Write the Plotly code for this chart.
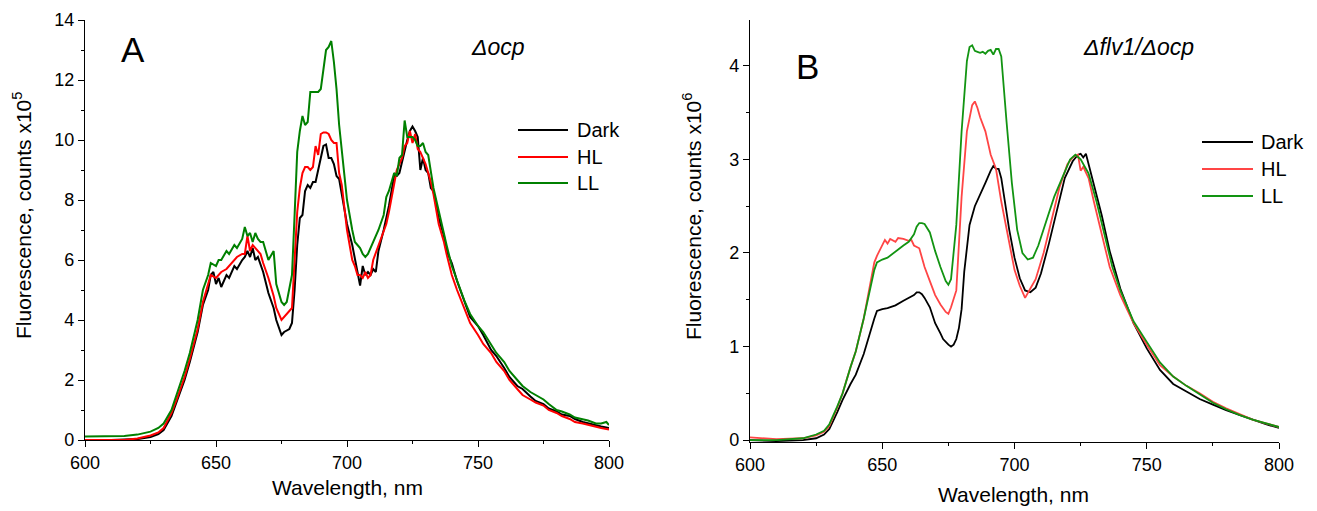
import plotly.graph_objects as go

# ---------------- Panel A (Δocp) ----------------
a_dark_wl = [600, 610, 620, 625, 628, 630, 633, 635, 638, 640, 643, 645, 647, 648, 649, 650, 651, 652, 654, 655, 657, 658, 660, 661, 662, 663, 664, 665, 666, 668, 670, 672, 673, 675, 676, 678, 679, 680, 681, 682, 683, 684, 685, 686, 687, 688, 689, 690, 691, 692, 693, 694, 695, 696, 697, 698, 700, 702, 703, 704, 705, 706, 707, 708, 709, 710, 711, 712, 714, 715, 716, 718, 719, 720, 721, 722, 723, 724, 725, 726, 727, 728, 729, 730, 731, 732, 733, 735, 737, 738, 740, 742, 745, 747, 750, 752, 755, 757, 760, 762, 765, 767, 770, 772, 775, 777, 780, 782, 785, 787, 790, 792, 795, 797, 800]
a_dark = [0.0, 0.0, 0.03, 0.1, 0.2, 0.33, 0.8, 1.3, 2.0, 2.6, 3.6, 4.5, 5.0, 5.5, 5.6, 5.2, 5.4, 5.1, 5.5, 5.4, 5.8, 5.7, 6.0, 6.1, 6.3, 6.1, 6.4, 6.0, 6.1, 5.6, 4.9, 4.4, 4.0, 3.5, 3.6, 3.7, 3.9, 5.0, 6.5, 7.4, 7.5, 8.3, 8.5, 8.4, 8.6, 8.6, 9.0, 9.5, 9.8, 9.85, 9.4, 9.4, 9.2, 8.8, 8.7, 8.2, 7.2, 6.5, 6.1, 5.6, 5.15, 5.8, 5.5, 5.6, 5.5, 5.7, 5.6, 6.3, 7.0, 7.4, 7.8, 8.8, 8.8, 8.9, 9.3, 9.6, 10.0, 10.3, 10.45, 10.3, 10.1, 9.0, 9.4, 9.0, 8.9, 8.4, 8.3, 7.4, 6.8, 6.3, 5.9, 5.3, 4.6, 4.1, 3.8, 3.5, 3.0, 2.8, 2.4, 2.1, 1.8, 1.7, 1.45, 1.3, 1.2, 1.05, 0.95, 0.85, 0.8, 0.7, 0.6, 0.55, 0.5, 0.45, 0.4]

a_hl_wl = [600, 610, 615, 620, 625, 628, 630, 633, 635, 638, 640, 643, 645, 647, 648, 650, 652, 654, 655, 657, 658, 660, 661, 662, 663, 664, 665, 667, 668, 670, 672, 673, 675, 676, 678, 679, 680, 681, 682, 683, 684, 685, 686, 687, 688, 689, 690, 691, 692, 693, 694, 695, 696, 697, 698, 700, 702, 703, 704, 705, 706, 707, 708, 709, 710, 712, 714, 715, 716, 718, 719, 720, 721, 722, 723, 724, 725, 726, 727, 728, 730, 732, 733, 735, 737, 738, 740, 742, 745, 747, 750, 752, 755, 757, 760, 762, 765, 767, 770, 772, 775, 777, 780, 782, 785, 787, 790, 792, 795, 797, 800]
a_hl = [0.0, 0.0, 0.0, 0.05, 0.15, 0.25, 0.4, 0.9, 1.35, 2.1, 2.7, 3.7, 4.6, 5.2, 5.5, 5.4, 5.6, 5.7, 5.8, 6.0, 6.1, 6.2, 6.2, 6.8, 6.3, 6.5, 6.4, 6.2, 5.9, 5.4, 4.8, 4.4, 4.0, 4.1, 4.3, 4.4, 6.0, 7.6, 8.4, 8.9, 9.1, 9.1, 9.0, 9.1, 9.8, 9.5, 10.2, 10.25, 10.25, 10.2, 10.0, 9.9, 9.9, 8.9, 8.5, 7.0, 6.0, 5.8, 5.5, 5.5, 5.4, 5.6, 5.4, 5.5, 6.0, 6.5, 7.0, 7.2, 7.6, 8.6, 9.0, 9.2, 9.4, 9.8, 9.9, 10.3, 9.9, 10.2, 9.7, 9.6, 9.2, 8.6, 8.2, 7.2, 6.6, 6.2, 5.5, 5.0, 4.3, 3.9, 3.5, 3.2, 2.9, 2.6, 2.3, 2.0, 1.7, 1.5, 1.35, 1.25, 1.15, 1.0, 0.9, 0.8, 0.7, 0.6, 0.55, 0.5, 0.45, 0.4, 0.35]

a_ll_wl = [600, 605, 610, 615, 620, 625, 628, 630, 633, 635, 638, 640, 643, 645, 647, 648, 650, 651, 652, 654, 655, 657, 658, 660, 661, 662, 663, 664, 665, 666, 667, 668, 670, 672, 673, 675, 676, 677, 679, 680, 681, 682, 683, 684, 685, 686, 687, 688, 689, 690, 691, 692, 693, 694, 695, 696, 697, 698, 700, 702, 703, 704, 705, 706, 707, 708, 709, 710, 712, 714, 715, 716, 718, 719, 720, 721, 722, 723, 724, 725, 726, 727, 728, 729, 730, 731, 733, 735, 737, 738, 740, 742, 745, 747, 750, 752, 755, 757, 760, 762, 765, 767, 770, 772, 775, 777, 780, 782, 785, 787, 790, 792, 795, 797, 799, 800]
a_ll = [0.12, 0.12, 0.12, 0.13, 0.18, 0.28, 0.4, 0.55, 1.0, 1.5, 2.3, 2.9, 4.0, 5.0, 5.5, 5.9, 5.8, 6.0, 6.0, 6.3, 6.2, 6.5, 6.4, 6.7, 7.1, 6.8, 6.9, 6.6, 6.9, 6.7, 6.6, 6.6, 6.0, 6.3, 5.2, 4.6, 4.5, 4.6, 5.5, 7.5, 9.6, 10.3, 10.8, 10.5, 10.6, 11.6, 11.6, 11.6, 11.6, 11.7, 12.4, 13.0, 13.1, 13.3, 12.6, 11.7, 10.5, 9.6, 8.0, 7.0, 6.6, 6.5, 6.4, 6.2, 6.1, 6.2, 6.4, 6.6, 7.0, 7.5, 8.1, 8.3, 8.9, 8.8, 9.4, 9.5, 10.65, 10.1, 10.1, 10.1, 10.0, 9.8, 9.8, 9.9, 9.6, 9.5, 8.4, 7.6, 6.9, 6.5, 5.8, 5.3, 4.6, 4.2, 3.8, 3.6, 3.2, 2.9, 2.6, 2.3, 2.0, 1.8, 1.6, 1.5, 1.35, 1.2, 1.0, 0.95, 0.85, 0.75, 0.7, 0.65, 0.55, 0.55, 0.6, 0.5]

# ---------------- Panel B (Δflv1/Δocp) ----------------
b_dark_wl = [600, 610, 620, 625, 628, 630, 633, 635, 638, 640, 643, 645, 647, 648, 650, 652, 655, 658, 660, 662, 663, 664, 665, 666, 668, 670, 672, 673, 675, 676, 677, 678, 679, 680, 681, 683, 685, 687, 689, 691, 692, 693, 694, 695, 696, 698, 700, 702, 704, 706, 708, 710, 713, 716, 719, 722, 724, 725, 726, 727, 728, 730, 733, 736, 740, 745, 750, 755, 760, 765, 770, 775, 780, 785, 790, 795, 800]
b_dark = [0.0, -0.01, 0.0, 0.02, 0.06, 0.12, 0.3, 0.43, 0.6, 0.7, 0.92, 1.12, 1.3, 1.38, 1.40, 1.41, 1.44, 1.49, 1.52, 1.55, 1.58, 1.58, 1.56, 1.52, 1.42, 1.25, 1.14, 1.08, 1.02, 1.0, 1.02, 1.08, 1.2, 1.4, 1.8, 2.3, 2.5, 2.62, 2.75, 2.88, 2.93, 2.9, 2.9, 2.8, 2.62, 2.25, 1.95, 1.73, 1.6, 1.58, 1.63, 1.78, 2.1, 2.45, 2.8, 2.98, 3.05, 3.06, 3.02, 3.06, 2.95, 2.75, 2.4, 2.02, 1.62, 1.25, 0.98, 0.75, 0.6, 0.52, 0.44, 0.38, 0.32, 0.27, 0.22, 0.17, 0.13]

b_hl_wl = [600, 605, 610, 620, 625, 628, 630, 633, 635, 638, 640, 643, 645, 647, 648, 650, 651, 652, 653, 655, 656, 658, 660, 661, 662, 664, 666, 668, 670, 672, 674, 675, 676, 678, 680, 682, 684, 685, 686, 687, 689, 691, 693, 695, 698, 700, 702, 704, 706, 708, 711, 714, 717, 720, 722, 723, 724, 725, 726, 727, 728, 730, 733, 736, 740, 745, 750, 755, 760, 765, 770, 775, 780, 785, 790, 795, 800]
b_hl = [0.03, 0.02, 0.01, 0.02, 0.05, 0.09, 0.15, 0.35, 0.5, 0.78, 0.95, 1.3, 1.6, 1.9, 1.97, 2.08, 2.14, 2.1, 2.15, 2.12, 2.16, 2.15, 2.13, 2.14, 2.08, 2.05, 1.85, 1.7, 1.55, 1.45, 1.37, 1.35, 1.42, 1.6, 2.6, 3.3, 3.58, 3.62, 3.55, 3.45, 3.3, 3.05, 2.9, 2.55, 2.1, 1.82, 1.65, 1.52, 1.62, 1.72, 2.0, 2.35, 2.7, 2.95, 3.02, 3.04, 3.05, 2.88, 2.92, 2.86, 2.8, 2.55, 2.2, 1.85, 1.55, 1.25, 1.02, 0.8, 0.68, 0.58, 0.5, 0.41, 0.34, 0.28, 0.22, 0.18, 0.14]

b_ll_wl = [600, 610, 620, 625, 628, 630, 633, 635, 638, 640, 643, 645, 647, 648, 650, 652, 655, 658, 660, 662, 663, 664, 665, 666, 668, 670, 672, 674, 675, 676, 678, 680, 682, 683, 684, 685, 686, 687, 688, 689, 690, 691, 692, 693, 694, 695, 697, 699, 701, 703, 705, 707, 709, 712, 715, 718, 721, 723, 725, 728, 731, 734, 737, 740, 745, 750, 755, 760, 765, 770, 775, 780, 785, 790, 795, 800]
b_ll = [0.0, 0.0, 0.02, 0.06, 0.1, 0.17, 0.36, 0.5, 0.78, 0.95, 1.3, 1.55, 1.82, 1.9, 1.93, 1.95, 2.02, 2.08, 2.12, 2.2, 2.28, 2.32, 2.32, 2.31, 2.22, 2.02, 1.85, 1.7, 1.66, 1.72, 2.3, 3.3, 4.05, 4.2, 4.22, 4.16, 4.15, 4.14, 4.15, 4.13, 4.16, 4.17, 4.12, 4.18, 4.18, 4.1, 3.4, 2.75, 2.25, 2.0, 1.93, 1.95, 2.08, 2.35, 2.6, 2.8, 3.0, 3.05, 3.0, 2.85, 2.55, 2.2, 1.85, 1.6, 1.27, 1.05, 0.83, 0.68, 0.58, 0.49, 0.4, 0.33, 0.27, 0.22, 0.18, 0.14]

series_names = ["Dark", "HL", "LL"]
colors_a = ["#000000", "#ff0000", "#008000"]
colors_b = ["#000000", "#ff4545", "#129412"]

# The page body adds an 8px offset; the figure is sized to fill the rest of the window.
OFF = 8
W, H = 1317 - OFF, 511 - OFF
FONT = "Liberation Sans, Arial, sans-serif"


def px(x):
    return (x - OFF) / W


def py(y):
    return 1 - (y - OFF) / H


fig = go.Figure()

a_sets = [(a_dark_wl, a_dark), (a_hl_wl, a_hl), (a_ll_wl, a_ll)]
b_sets = [(b_dark_wl, b_dark), (b_hl_wl, b_hl), (b_ll_wl, b_ll)]

for (wl, v), name, c in zip(a_sets, series_names, colors_a):
    fig.add_trace(go.Scatter(x=wl, y=v, mode="lines", name=name,
                             line=dict(color=c, width=2),
                             xaxis="x", yaxis="y", showlegend=False))
for (wl, v), name, c in zip(b_sets, series_names, colors_b):
    fig.add_trace(go.Scatter(x=wl, y=v, mode="lines", name=name,
                             line=dict(color=c, width=1.8),
                             xaxis="x2", yaxis="y2", showlegend=False))

minor_x = dict(tickvals=[625, 675, 725, 775], ticklen=3, ticks="outside", tickcolor="black", tickwidth=1.3)
axis_common = dict(showgrid=False, zeroline=False, showline=True,
                   linecolor="black", linewidth=1.3, ticks="outside",
                   ticklen=6, tickwidth=1.3, tickcolor="black",
                   tickfont=dict(family=FONT, size=18, color="black"),
                   automargin=False)

fig.update_layout(
    width=W, height=H,
    margin=dict(l=0, r=0, t=0, b=0),
    paper_bgcolor="white", plot_bgcolor="white",
    font=dict(family=FONT, color="black"),
    showlegend=False,
    xaxis=dict(domain=[px(85), px(609)], range=[600, 800], tickvals=[600, 650, 700, 750, 800],
               minor=minor_x, anchor="y", **axis_common),
    yaxis=dict(domain=[py(440), py(20)], range=[0, 14], tickvals=[0, 2, 4, 6, 8, 10, 12, 14],
               minor=dict(tickvals=[1, 3, 5, 7, 9, 11, 13], ticklen=3, ticks="outside", tickcolor="black", tickwidth=1.3),
               anchor="x", **axis_common),
    xaxis2=dict(domain=[px(750), px(1279)], range=[600, 800], tickvals=[600, 650, 700, 750, 800],
                minor=minor_x, anchor="y2", **axis_common),
    yaxis2=dict(domain=[py(442), py(20)], range=[-0.02, 4.49], tickvals=[0, 1, 2, 3, 4],
                minor=dict(tickvals=[0.5, 1.5, 2.5, 3.5], ticklen=3, ticks="outside", tickcolor="black", tickwidth=1.3),
                anchor="x2", **axis_common),
)

annotations = [
    dict(text="A", x=px(133), y=py(49), font=dict(size=35)),
    dict(text="B", x=px(807), y=py(66), font=dict(size=35)),
    dict(text="<i>Δocp</i>", x=px(498), y=py(47), font=dict(size=23)),
    dict(text="<i>Δflv1/Δocp</i>", x=px(1138), y=py(47), font=dict(size=23)),
    dict(text="Wavelength, nm", x=px(347), y=py(487), font=dict(size=21)),
    dict(text="Wavelength, nm", x=px(1013), y=py(494), font=dict(size=21)),
    dict(text="Fluorescence, counts x10<sup>5</sup>", x=px(22), y=py(216), textangle=-90, font=dict(size=21)),
    dict(text="Fluorescence, counts x10<sup>6</sup>", x=px(692), y=py(217), textangle=-90, font=dict(size=21)),
]

# Hand-placed legends (line sample + label), matching the reference's layout
shapes = []
legend_a = dict(x0=518, x1=568, tx=575, rows=[130, 157, 183], colors=colors_a, width=2.2)
legend_b = dict(x0=1202, x1=1253, tx=1259, rows=[142, 169, 196], colors=colors_b, width=2.0)
for lg in (legend_a, legend_b):
    for name, c, yy in zip(series_names, lg["colors"], lg["rows"]):
        shapes.append(dict(type="line", xref="paper", yref="paper",
                           x0=px(lg["x0"]), x1=px(lg["x1"]), y0=py(yy), y1=py(yy),
                           line=dict(color=c, width=lg["width"])))
        annotations.append(dict(text=name, x=px(lg["tx"]), y=py(yy), xanchor="left",
                                font=dict(size=20)))

for a in annotations:
    a.setdefault("xanchor", "center")
    a.update(xref="paper", yref="paper", showarrow=False, yanchor="middle")
    a["font"].update(family=FONT, color="black")
fig.update_layout(annotations=annotations, shapes=shapes)

fig.write_html("out.html")
